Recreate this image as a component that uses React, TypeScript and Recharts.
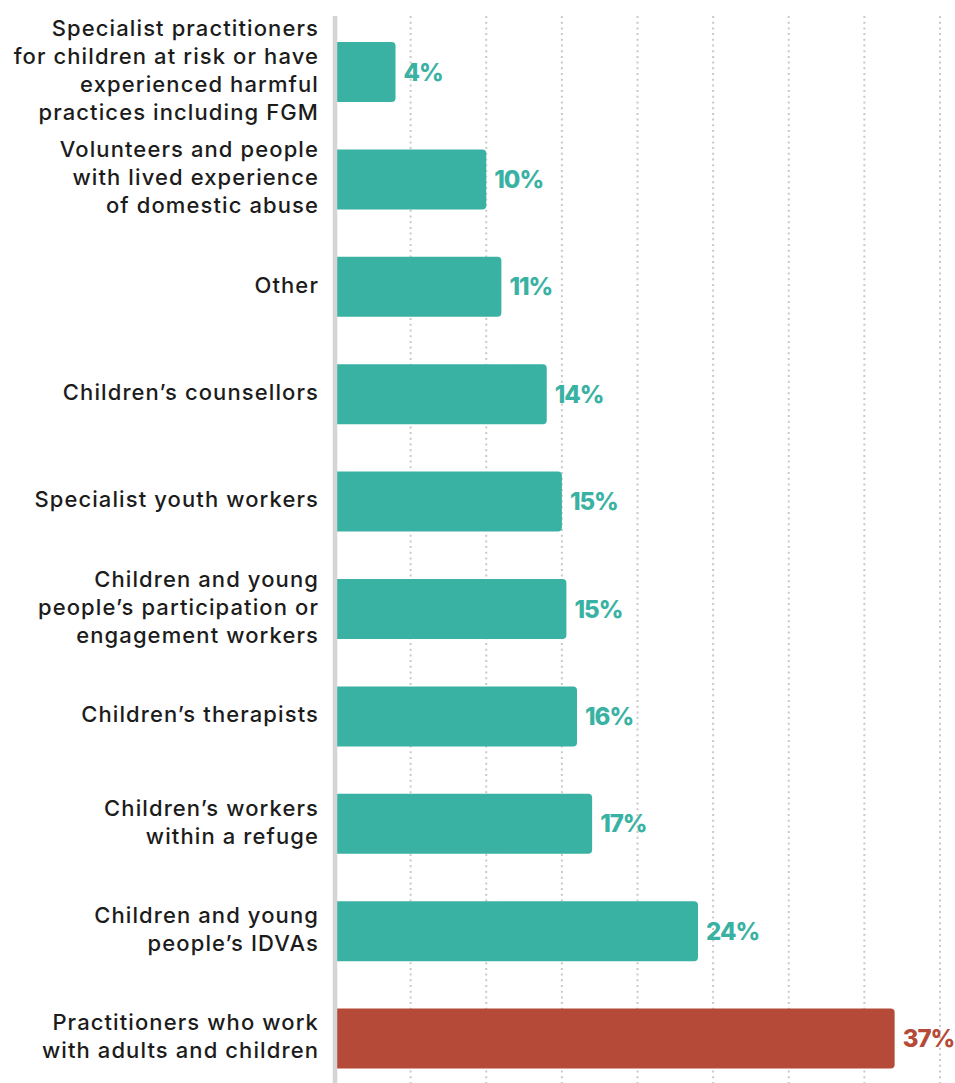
import React from "react";
import { BarChart, Bar, XAxis, YAxis, CartesianGrid, Cell, LabelList } from "recharts";

const categories: string[][] = [
  ["Specialist practitioners", "for children at risk or have", "experienced harmful", "practices including FGM"],
  ["Volunteers and people", "with lived experience", "of domestic abuse"],
  ["Other"],
  ["Children’s counsellors"],
  ["Specialist youth workers"],
  ["Children and young", "people’s participation or", "engagement workers"],
  ["Children’s therapists"],
  ["Children’s workers", "within a refuge"],
  ["Children and young", "people’s IDVAs"],
  ["Practitioners who work", "with adults and children"],
];
const values: number[] = [4, 10, 11, 14, 15, 15.3, 16, 17, 24, 37];
const valueLabels: string[] = ["4%", "10%", "11%", "14%", "15%", "15%", "16%", "17%", "24%", "37%"];
const highlight: boolean[] = [false, false, false, false, false, false, false, false, false, true];
const xTicks: number[] = [0, 5, 10, 15, 20, 25, 30, 35, 40];

const TEAL = "#3AB2A3";
const RED = "#B54A38";
const FONT = "Inter, 'Noto Sans', sans-serif";

const data = categories.map((c, i) => ({
  name: c.join(" "),
  value: values[i],
  label: valueLabels[i],
  hi: highlight[i],
}));

const CatTick = (props: any) => {
  const { x, y, payload, index } = props;
  const lines: string[] = categories[payload.index ?? index] || [payload.value];
  const lh = 28;
  const n = lines.length;
  return (
    <g>
      {lines.map((l, i) => (
        <text
          key={i}
          x={x - 8}
          y={y + (i - (n - 1) / 2) * lh - 2}
          textAnchor="end"
          dominantBaseline="central"
          fontFamily={FONT}
          fontSize={22}
          fontWeight={500}
          letterSpacing={1.1}
          fill="#1c1c1c"
        >
          {l}
        </text>
      ))}
    </g>
  );
};

const ValueLabel = (props: any) => {
  const { x, y, width, height, index } = props;
  const d = data[index];
  return (
    <text
      x={x + width + 8}
      y={y + height / 2}
      dominantBaseline="central"
      fontFamily={FONT}
      fontSize={24}
      fontWeight={800}
      letterSpacing={-1}
      fill={d.hi ? RED : TEAL}
    >
      {d.label}
    </text>
  );
};

export default function App() {
  return (
    <div style={{ position: "fixed", left: 0, top: 0, width: 955, height: 1083, overflow: "hidden", background: "#fff" }}>
      <BarChart
        width={955}
        height={1100}
        data={data}
        layout="vertical"
        margin={{ top: 16, right: 15, bottom: 8, left: 0 }}
      >
        <CartesianGrid
          horizontal={false}
          vertical={true}
          stroke="#c9c9c9"
          strokeWidth={2}
          strokeDasharray="2 3.7"
        />
        <XAxis type="number" domain={[0, 40]} ticks={xTicks} hide />
        <YAxis
          type="category"
          dataKey="name"
          width={335}
          axisLine={{ stroke: "#d4d4d4", strokeWidth: 4.5 }}
          tickLine={false}
          tick={<CatTick />}
          interval={0}
          padding={{ top: 2, bottom: 0 }}
        />
        <Bar dataKey="value" barSize={60} radius={[0, 4, 4, 0]} isAnimationActive={false}>
          {data.map((d, i) => (
            <Cell key={i} fill={d.hi ? RED : TEAL} />
          ))}
          <LabelList dataKey="value" content={<ValueLabel />} />
        </Bar>
      </BarChart>
    </div>
  );
}
